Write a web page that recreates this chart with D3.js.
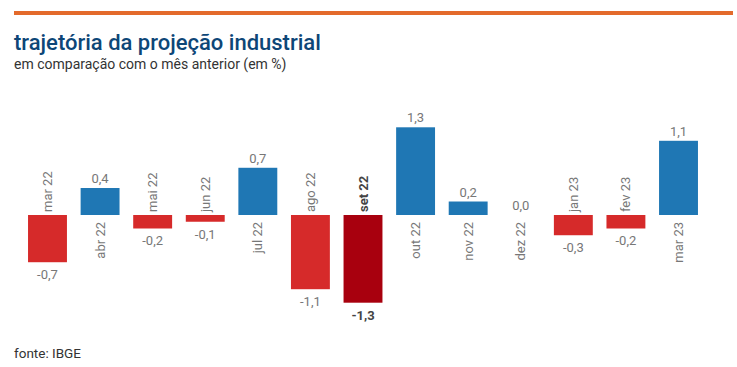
<!DOCTYPE html>
<html>
<head>
<meta charset="utf-8">
<script src="https://cdn.jsdelivr.net/npm/d3@7"></script>
<style>
  body { margin: 0; background: #fff; }
  svg { font-family: Roboto, "Noto Sans", sans-serif; }
</style>
</head>
<body>
<figure id="bar" style="margin:0"></figure>
<script>
const months = ["mar 22", "abr 22", "mai 22", "jun 22", "jul 22", "ago 22", "set 22",
                "out 22", "nov 22", "dez 22", "jan 23", "fev 23", "mar 23"];
const values = [-0.7, 0.4, -0.2, -0.1, 0.7, -1.1, -1.3, 1.3, 0.2, 0.0, -0.3, -0.2, 1.1];
const highlight = ["set 22"];

const width = 737, height = 367;
const data = months.map((m, i) => ({ name: m, value: values[i] }));

const svg = d3.select("figure#bar")
  .append("svg")
  .attr("width", width)
  .attr("height", height);

// top orange rule
svg.append("rect")
  .attr("x", 14).attr("y", 11)
  .attr("width", 719).attr("height", 4)
  .attr("fill", "#e36a2b");

svg.append("text")
  .attr("x", 14).attr("y", 50)
  .attr("fill", "#0d4677")
  .style("font-size", "22px")
  .style("font-weight", "500")
  .text("trajetória da projeção industrial");

svg.append("text")
  .attr("x", 14).attr("y", 69)
  .attr("fill", "#333")
  .style("font-size", "14px")
  .text("em comparação com o mês anterior (em %)");

svg.append("text")
  .attr("x", 14).attr("y", 358)
  .attr("fill", "#333")
  .style("font-size", "13.5px")
  .text("fonte: IBGE");

// scales
const x = d3.scaleBand()
  .domain(months)
  .range([21.2, 704.8])
  .paddingInner(0.26)
  .paddingOuter(0.13);

const y = d3.scaleLinear()
  .domain([-1.3, 1.3])
  .range([302.7, 127.3]);

const g = svg.append("g");

g.selectAll("rect.bar")
  .data(data)
  .enter()
  .append("rect")
  .attr("class", "bar")
  .attr("x", d => x(d.name))
  .attr("width", x.bandwidth())
  .attr("y", d => y(Math.max(0, d.value)))
  .attr("height", d => Math.abs(y(d.value) - y(0)))
  .attr("fill", d => highlight.includes(d.name) ? "#a8000e" : (d.value < 0 ? "#d62a2a" : "#1f77b4"));

const fmt = v => v.toFixed(1).replace(".", ",");
const isHi = d => highlight.includes(d.name);

// value labels
g.selectAll("text.val")
  .data(data)
  .enter()
  .append("text")
  .attr("class", "val")
  .attr("x", d => x(d.name) + x.bandwidth() / 2)
  .attr("y", d => d.value < 0 ? y(d.value) + 17 : y(d.value) - 5)
  .attr("text-anchor", "middle")
  .attr("fill", d => isHi(d) ? "#444" : "#777")
  .style("font-size", "13px")
  .style("font-weight", d => isHi(d) ? "bold" : "normal")
  .text(d => fmt(d.value));

// month labels, rotated
g.selectAll("text.month")
  .data(data)
  .enter()
  .append("text")
  .attr("class", "month")
  .attr("transform", d => {
    const cx = x(d.name) + x.bandwidth() / 2 + 4.5;
    const cy = d.value < 0 ? y(0) - 3 : y(0) + 7;
    return "translate(" + cx + "," + cy + ")rotate(-90)";
  })
  .attr("text-anchor", d => d.value < 0 ? "start" : "end")
  .attr("fill", d => isHi(d) ? "#444" : "#777")
  .style("font-size", "13px")
  .style("font-weight", d => isHi(d) ? "bold" : "normal")
  .text(d => d.name);
</script>
</body>
</html>
